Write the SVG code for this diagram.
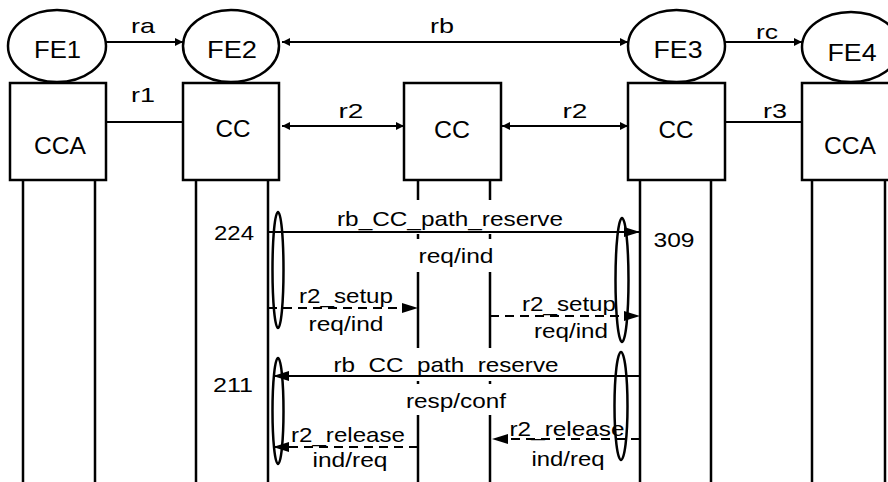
<svg xmlns="http://www.w3.org/2000/svg" width="888" height="482" viewBox="0 0 888 482">
<style>
.shape{fill:#fff;stroke:#000;stroke-width:2.5}
.life{stroke:#000;stroke-width:2.5;fill:none}
.ln{stroke:#000;stroke-width:2;fill:none}
.dash{stroke:#000;stroke-width:2;fill:none;stroke-dasharray:9,6}
.brk{fill:none;stroke:#000;stroke-width:2.5}
text{font-family:"Liberation Sans",Arial,sans-serif;fill:#000;text-anchor:middle}
.nt{font-size:23px}
.et{font-size:21px}
</style>
<defs>
<marker id="sm" viewBox="0 0 10 10" refX="10" refY="5" markerWidth="8" markerHeight="8" markerUnits="userSpaceOnUse" orient="auto-start-reverse"><path d="M0,0 L10,5 L0,10 z" fill="#000"/></marker>
<marker id="lg" viewBox="0 0 16 10" refX="16" refY="5" markerWidth="16" markerHeight="10" markerUnits="userSpaceOnUse" orient="auto-start-reverse"><path d="M0,0 L16,5 L0,10 z" fill="#000"/></marker>
</defs>
<rect width="888" height="482" fill="#fff"/>

<g id="fe1"><ellipse class="shape" cx="57" cy="46" rx="49" ry="36"/><text class="nt" x="57.5" y="58" textLength="47" lengthAdjust="spacingAndGlyphs">FE1</text></g>
<g id="fe2"><ellipse class="shape" cx="231" cy="46" rx="48" ry="36"/><text class="nt" x="232" y="58" textLength="50" lengthAdjust="spacingAndGlyphs">FE2</text></g>
<g id="fe3"><ellipse class="shape" cx="676.5" cy="46" rx="48.5" ry="36"/><text class="nt" x="678" y="58" textLength="49" lengthAdjust="spacingAndGlyphs">FE3</text></g>
<g id="fe4"><ellipse class="shape" cx="851" cy="47" rx="49" ry="35"/><text class="nt" x="852" y="61" textLength="49" lengthAdjust="spacingAndGlyphs">FE4</text></g>

<g id="cca1"><rect class="shape" x="10" y="83" width="96" height="97"/><text class="nt" x="60" y="154" textLength="52" lengthAdjust="spacingAndGlyphs">CCA</text>
<line class="life" x1="23" y1="180" x2="23" y2="482"/><line class="life" x1="95" y1="180" x2="95" y2="482"/></g>
<g id="cc2"><rect class="shape" x="183" y="83" width="96" height="97"/><text class="nt" x="233" y="137" textLength="35" lengthAdjust="spacingAndGlyphs">CC</text>
<line class="life" x1="196" y1="180" x2="196" y2="482"/><line class="life" x1="268" y1="180" x2="268" y2="482"/></g>
<g id="ccmid"><rect class="shape" x="404" y="83" width="97" height="97"/><text class="nt" x="452" y="138" textLength="36" lengthAdjust="spacingAndGlyphs">CC</text>
<path class="life" d="M418,180V200M418,234V239M418,272V348M418,381V384M418,415V482M490,180V200M490,234V239M490,272V348M490,381V384M490,415V482"/></g>
<g id="cc3"><rect class="shape" x="628" y="83" width="97" height="97"/><text class="nt" x="676" y="138" textLength="35" lengthAdjust="spacingAndGlyphs">CC</text>
<line class="life" x1="640" y1="180" x2="640" y2="482"/><line class="life" x1="711" y1="180" x2="711" y2="482"/></g>
<g id="cca4"><rect class="shape" x="802" y="83" width="100" height="97"/><text class="nt" x="850" y="154" textLength="52" lengthAdjust="spacingAndGlyphs">CCA</text>
<line class="life" x1="812" y1="180" x2="812" y2="482"/><line class="life" x1="885" y1="180" x2="885" y2="482"/></g>

<g id="connectors">
<line class="ln" x1="106" y1="42" x2="183" y2="42" marker-end="url(#sm)"/>
<text class="et" x="143" y="33" textLength="24" lengthAdjust="spacingAndGlyphs">ra</text>
<line class="ln" x1="282" y1="42" x2="628" y2="42" marker-start="url(#sm)" marker-end="url(#sm)"/>
<text class="et" x="442" y="33" textLength="24" lengthAdjust="spacingAndGlyphs">rb</text>
<line class="ln" x1="725" y1="42" x2="802" y2="42" marker-end="url(#sm)"/>
<text class="et" x="767" y="39" textLength="22" lengthAdjust="spacingAndGlyphs">rc</text>
<line class="ln" x1="106" y1="122" x2="182" y2="122"/>
<text class="et" x="143" y="102" textLength="24" lengthAdjust="spacingAndGlyphs">r1</text>
<line class="ln" x1="282" y1="126" x2="404" y2="126" marker-start="url(#sm)" marker-end="url(#sm)"/>
<text class="et" x="351" y="118" textLength="25" lengthAdjust="spacingAndGlyphs">r2</text>
<line class="ln" x1="502" y1="126" x2="628" y2="126" marker-start="url(#sm)" marker-end="url(#sm)"/>
<text class="et" x="575" y="118" textLength="25" lengthAdjust="spacingAndGlyphs">r2</text>
<line class="ln" x1="725" y1="122" x2="802" y2="122"/>
<text class="et" x="775" y="118" textLength="24" lengthAdjust="spacingAndGlyphs">r3</text>

<text class="et" x="450" y="226" textLength="226" lengthAdjust="spacingAndGlyphs">rb_CC_path_reserve</text>
<line class="ln" x1="268" y1="232" x2="640" y2="232" marker-end="url(#lg)"/>
<text class="et" x="456" y="263" textLength="75" lengthAdjust="spacingAndGlyphs">req/ind</text>
<text class="et" x="234" y="240" textLength="40" lengthAdjust="spacingAndGlyphs">224</text>
<text class="et" x="674" y="247" textLength="41" lengthAdjust="spacingAndGlyphs">309</text>

<text class="et" x="346" y="303" textLength="94" lengthAdjust="spacingAndGlyphs">r2_setup</text>
<line class="dash" x1="268" y1="308" x2="418" y2="308" marker-end="url(#lg)"/>
<text class="et" x="346" y="331" textLength="75" lengthAdjust="spacingAndGlyphs">req/ind</text>
<text class="et" x="569" y="311" textLength="94" lengthAdjust="spacingAndGlyphs">r2_setup</text>
<line class="dash" x1="490" y1="316" x2="640" y2="316" marker-end="url(#lg)"/>
<text class="et" x="571" y="338" textLength="74" lengthAdjust="spacingAndGlyphs">req/ind</text>

<text class="et" x="446" y="372" textLength="225" lengthAdjust="spacingAndGlyphs">rb_CC_path_reserve</text>
<line class="ln" x1="640" y1="376" x2="273" y2="376" marker-end="url(#lg)"/>
<text class="et" x="456" y="408" textLength="100" lengthAdjust="spacingAndGlyphs">resp/conf</text>
<text class="et" x="233" y="392" textLength="40" lengthAdjust="spacingAndGlyphs">211</text>

<text class="et" x="348" y="442" textLength="114" lengthAdjust="spacingAndGlyphs">r2_release</text>
<line class="dash" x1="418" y1="447" x2="273" y2="447" marker-end="url(#lg)"/>
<text class="et" x="350" y="467" textLength="75" lengthAdjust="spacingAndGlyphs">ind/req</text>
<text class="et" x="567" y="436" textLength="115" lengthAdjust="spacingAndGlyphs">r2_release</text>
<line class="dash" x1="640" y1="439" x2="492" y2="439" marker-end="url(#lg)"/>
<text class="et" x="568" y="466" textLength="73" lengthAdjust="spacingAndGlyphs">ind/req</text>

<ellipse class="brk" cx="278" cy="270" rx="5.5" ry="58"/>
<ellipse class="brk" cx="622" cy="280" rx="6.5" ry="62"/>
<ellipse class="brk" cx="278" cy="411" rx="5.5" ry="53"/>
<ellipse class="brk" cx="621" cy="406" rx="6.5" ry="54"/>
</g>
</svg>
